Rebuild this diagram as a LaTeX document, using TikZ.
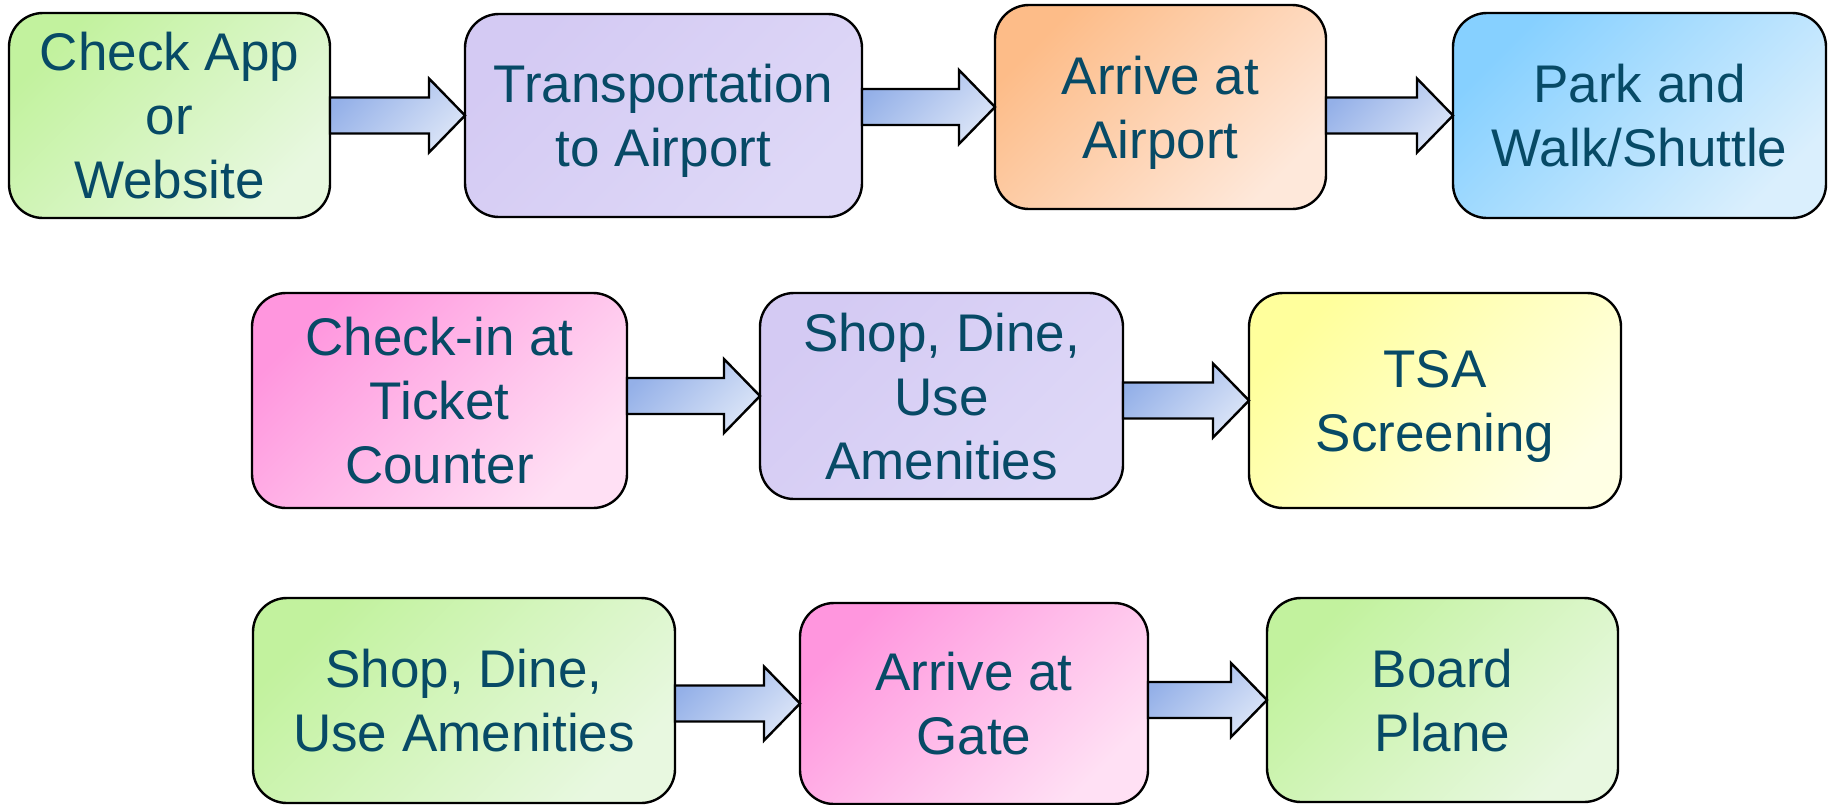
\documentclass[tikz,border=0pt]{standalone}
\usepackage{fontspec}
\setmainfont{Liberation Sans}
\usepackage{xcolor}
\usepackage{tikz}
\usetikzlibrary{calc}
\definecolor{tealInk}{HTML}{074A66}
\definecolor{greenA}{HTML}{C2F29E}
\definecolor{greenB}{HTML}{E8F8E0}
\definecolor{lilacA}{HTML}{D4CAF3}
\definecolor{lilacB}{HTML}{DED8F7}
\definecolor{peachA}{HTML}{FDBC88}
\definecolor{peachB}{HTML}{FEE8DA}
\definecolor{skyA}{HTML}{86D0FF}
\definecolor{skyB}{HTML}{DAEFFD}
\definecolor{pinkA}{HTML}{FF96DE}
\definecolor{pinkB}{HTML}{FFE0F4}
\definecolor{lemonA}{HTML}{FFFF9C}
\definecolor{lemonB}{HTML}{FFFFE4}
\definecolor{arrowA}{HTML}{94B0E8}
\definecolor{arrowB}{HTML}{DAE4F7}
% block arrow from one box to the next, level with the target's middle
\newcommand{\flowarrow}[3][0pt]{%
  \draw[flowarrow,yshift=#1] let \p1=(#2.east), \p2=(#3.west) in
    (\x1,\y2+18pt) -- (\x2-36pt,\y2+18pt) -- (\x2-36pt,\y2+37pt) -- (\x2,\y2)
    -- (\x2-36pt,\y2-37pt) -- (\x2-36pt,\y2-18pt) -- (\x1,\y2-18pt) -- cycle;}

\begin{document}
\begin{tikzpicture}[x=1pt,y=-1pt,
  stage/.style 2 args={rectangle,rounded corners=34pt,draw=black,line width=2.4pt,
    top color=#1,bottom color=#2,shading angle=45,inner sep=0pt,outer sep=0pt,
    align=center,text=tealInk,font=\fontsize{53}{64}\selectfont,text depth=-5pt},
  flowarrow/.style={draw=black,line width=2.4pt,line join=miter,
    top color=arrowA,bottom color=arrowB,shading angle=45}]
\useasboundingbox (0,0) rectangle (1833,804);
% first row: getting to the airport
\node[stage={greenA}{greenB},minimum width=321,minimum height=205] (app) at (169.5,115.5) {Check App\\or\\Website};
\node[stage={lilacA}{lilacB},minimum width=397,minimum height=203] (trans) at (663.5,115.5) {Transportation\\to Airport};
\node[stage={peachA}{peachB},minimum width=331,minimum height=204] (arrive) at (1160.5,107) {Arrive at\\Airport};
\node[stage={skyA}{skyB},minimum width=373,minimum height=205] (park) at (1639.5,115.5) {Park and\\Walk/Shuttle};
% second row: before security
\node[stage={pinkA}{pinkB},minimum width=375,minimum height=215] (ticket) at (439.5,400.5) {Check-in at\\Ticket\\Counter};
\node[stage={lilacA}{lilacB},minimum width=363,minimum height=206] (shopA) at (941.5,396) {Shop, Dine,\\Use\\Amenities};
\node[stage={lemonA}{lemonB},minimum width=372,minimum height=215] (tsa) at (1435,400.5) {TSA\\Screening};
% third row: airside
\node[stage={greenA}{greenB},minimum width=422,minimum height=205] (shopB) at (464,700.5) {Shop, Dine,\\Use Amenities};
\node[stage={pinkA}{pinkB},minimum width=348,minimum height=201] (gate) at (974,703.5) {Arrive at\\Gate};
\node[stage={greenA}{greenB},minimum width=351,minimum height=204] (board) at (1442.5,700) {Board\\Plane};
% arrows
\flowarrow{app}{trans}
\flowarrow{trans}{arrive}
\flowarrow{arrive}{park}
\flowarrow{ticket}{shopA}
\flowarrow[3pt]{shopA}{tsa}
\flowarrow[9pt]{shopB}{gate}
\flowarrow[6pt]{gate}{board}
\end{tikzpicture}
\end{document}
